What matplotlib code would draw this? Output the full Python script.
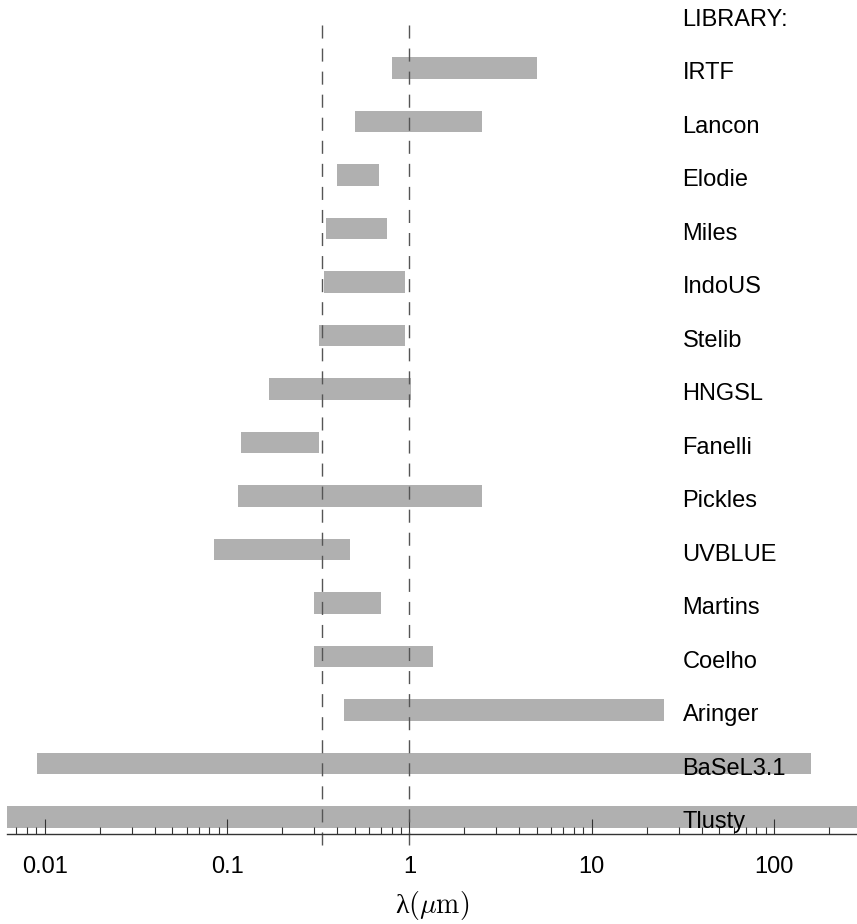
import matplotlib
matplotlib.use("Agg")
import matplotlib.pyplot as plt
from matplotlib.ticker import FixedLocator, FixedFormatter, LogLocator, NullFormatter

plt.rcParams["font.family"] = ["Liberation Sans", "DejaVu Sans"]
plt.rcParams["mathtext.fontset"] = "cm"

# wavelength coverage of each stellar library, in micron
libraries = ["Tlusty", "BaSeL3.1", "Aringer", "Coelho", "Martins", "UVBLUE",
             "Pickles", "Fanelli", "HNGSL", "Stelib", "IndoUS", "Miles",
             "Elodie", "Lancon", "IRTF"]
lam_min = [0.006, 0.0091, 0.44, 0.30, 0.30, 0.085,
           0.115, 0.12, 0.17, 0.32, 0.34, 0.35,
           0.40, 0.50, 0.80]
lam_max = [300, 160, 25, 1.34, 0.70, 0.47,
           2.5, 0.32, 1.02, 0.95, 0.95, 0.75,
           0.68, 2.5, 5.0]
marker_lines = [0.33, 1.0]
tick_vals = [0.01, 0.1, 1, 10, 100]
tick_text = ["0.01", "0.1", "1", "10", "100"]

fig = plt.figure(figsize=(8.57, 9.24), dpi=100)
ax = fig.add_axes([7 / 857, 90 / 924, 850 / 857, 834 / 924])
ax.set_xscale("log")

rows = list(range(len(libraries)))
widths = [hi - lo for lo, hi in zip(lam_min, lam_max)]
ax.barh(rows, widths, left=lam_min, height=0.4, color="#b0b0b0", zorder=1)

for x in marker_lines:
    ax.plot([x, x], [14.8, -0.65], color="#555555", lw=1.0,
            linestyle=(0, (9.4, 7.2)), clip_on=False, zorder=2)

for y, name in zip(rows, libraries):
    ax.text(31.5, y - 0.1, name, va="center", ha="left", fontsize=17, zorder=3)
ax.text(31.5, len(libraries) - 0.1, "LIBRARY:", va="center", ha="left", fontsize=17)

ax.set_xlim(0.00621, 285)
ax.set_ylim(-0.318, 15.27)

ax.xaxis.set_major_locator(FixedLocator(tick_vals))
ax.xaxis.set_major_formatter(FixedFormatter(tick_text))
ax.xaxis.set_minor_locator(LogLocator(base=10, subs=range(2, 10), numticks=20))
ax.xaxis.set_minor_formatter(NullFormatter())
ax.tick_params(axis="x", which="major", direction="in", length=10.5, width=0.8,
               color="#333333", labelsize=17, pad=16)
ax.tick_params(axis="x", which="minor", direction="in", length=5.2, width=0.8,
               color="#333333")
ax.set_yticks([])
for side in ["top", "left", "right"]:
    ax.spines[side].set_visible(False)
ax.spines["bottom"].set_color("#333333")
ax.spines["bottom"].set_linewidth(1.0)

ax.set_xlabel(r"λ$(\mu\mathrm{m})$", fontsize=20, labelpad=8,
              family=["Liberation Serif", "DejaVu Serif"])

fig.savefig("out.png", dpi=100, facecolor="white")
